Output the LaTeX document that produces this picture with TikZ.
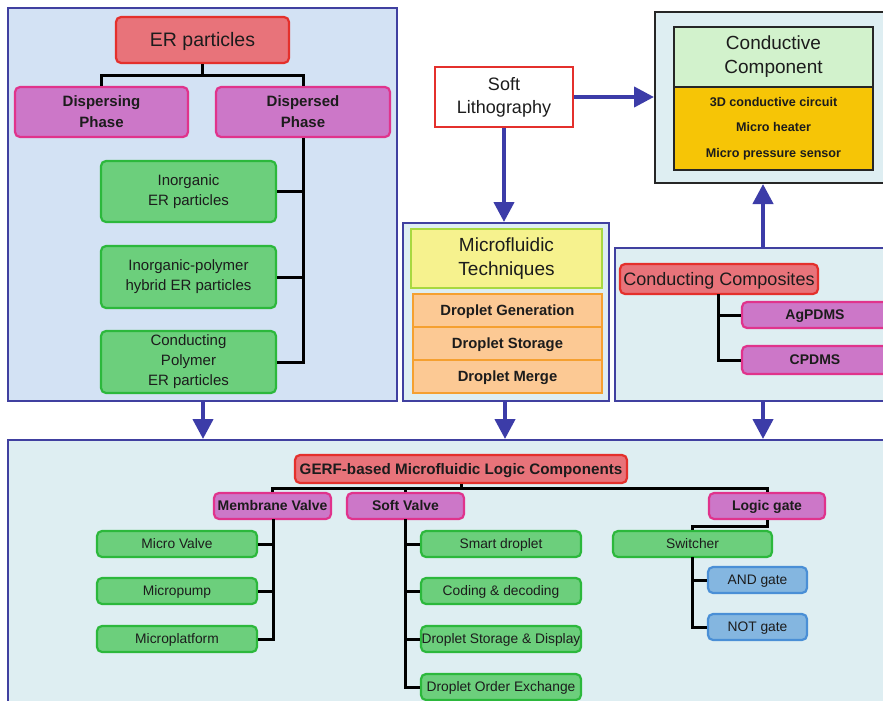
\documentclass[tikz,border=0pt]{standalone}
\usepackage{fontspec}
\setmainfont{Liberation Sans}
\usetikzlibrary{arrows.meta}

\definecolor{panelB}{HTML}{4040A0}
\definecolor{panelBlue}{HTML}{D3E2F4}
\definecolor{panelCyan}{HTML}{DEEEF2}
\definecolor{arrowC}{HTML}{3C3CA8}
\definecolor{redF}{HTML}{E8737A}
\definecolor{redB}{HTML}{E4302C}
\definecolor{magF}{HTML}{CC77C8}
\definecolor{magB}{HTML}{E0338C}
\definecolor{grnF}{HTML}{6CCF7C}
\definecolor{grnB}{HTML}{2CB83C}
\definecolor{bluF}{HTML}{84B6E0}
\definecolor{bluB}{HTML}{4A8FD6}
\definecolor{yelF}{HTML}{F6F28E}
\definecolor{yelB}{HTML}{A8D840}
\definecolor{orgF}{HTML}{FCC994}
\definecolor{orgB}{HTML}{F5A030}
\definecolor{ccF}{HTML}{D2F2CC}
\definecolor{goldF}{HTML}{F6C506}
\definecolor{txt}{HTML}{1C1C1C}

\tikzset{
  panel/.style={draw=panelB, line width=2pt, inner sep=0pt},
  box/.style={rounded corners=5pt, line width=2.2pt, inner sep=1pt, align=center, text=txt},
  oneline/.style={text height=#1*0.85pt, text depth=#1*0.15pt},
  redbox/.style={box, draw=redB, fill=redF},
  magbox/.style={box, draw=magB, fill=magF},
  grnbox/.style={box, draw=grnB, fill=grnF},
  blubox/.style={box, draw=bluB, fill=bluF},
  orgbox/.style={line width=1.8pt, draw=orgB, fill=orgF, inner sep=1pt, align=center, text=txt},
  tree/.style={line width=3pt, draw=black, line join=miter},
  flow/.style={line width=4.2pt, draw=arrowC, -{Triangle[length=20pt,width=20pt]}},
  fbig/.style={font=\fontsize{19.5}{23}\selectfont, oneline=19.5},
  fhead/.style={font=\fontsize{19}{24}\selectfont},
  fphase/.style={font=\fontsize{15}{21}\selectfont\bfseries},
  fmid/.style={font=\fontsize{15}{20}\selectfont},
  fsmallb/.style={font=\fontsize{14}{16}\selectfont\bfseries, oneline=14},
  fsmall/.style={font=\fontsize{13.8}{16}\selectfont, oneline=13.8},
  forg/.style={font=\fontsize{14.8}{16}\selectfont\bfseries, oneline=14.8},
}

\begin{document}
\begin{tikzpicture}[x=1pt,y=-1pt]
\useasboundingbox (0,0) rectangle (883,701);
\clip (0,0) rectangle (883,701);
\fill[white] (0,0) rectangle (883,701);

% ---------- ER particle panel ----------
\node[panel, fill=panelBlue, minimum width=389pt, minimum height=393pt] (erpanel) at (202.5,204.5) {};
\node[redbox, fbig, minimum width=173pt, minimum height=46pt] (er) at (202.5,40) {ER particles};
\node[magbox, fphase, minimum width=173pt, minimum height=50pt] (dsg) at (101.5,112) {Dispersing\\Phase};
\node[magbox, fphase, minimum width=174pt, minimum height=50pt] (dsd) at (303,112) {Dispersed\\Phase};
\node[grnbox, fmid, minimum width=175pt, minimum height=61pt] (inorg) at (188.5,191.5) {Inorganic\\ER particles};
\node[grnbox, fmid, minimum width=175pt, minimum height=62pt] (hyb) at (188.5,277) {Inorganic-polymer\\hybrid ER particles};
\node[grnbox, fmid, minimum width=175pt, minimum height=62pt] (cpol) at (188.5,362)
  {Conducting\\Polymer\\ER particles};

\coordinate (erj) at (202.5,75);
\draw[tree] (er.south) -- (erj);
\draw[tree] (dsg.north) |- (erj) -| (dsd.north);
\draw[tree] (dsd.south) -- (dsd.south |- cpol.east) -- (cpol.east);
\draw[tree] (inorg.east) -- (inorg.east -| dsd.south);
\draw[tree] (hyb.east) -- (hyb.east -| dsd.south);

% ---------- soft lithography ----------
\node[draw=redB, line width=1.8pt, fill=white, font=\fontsize{18}{23}\selectfont, align=center, text=txt,
  minimum width=138pt, minimum height=60pt, inner sep=1pt] (soft) at (504,97) {Soft\\Lithography};

% ---------- conductive component ----------
\node[draw=black!85, line width=2pt, fill=panelCyan, minimum width=240pt, minimum height=171pt, inner sep=0pt]
  (condpanel) at (775,97.5) {};
\node[draw=black!85, line width=2pt, fill=ccF, fhead, align=center, text=txt,
  minimum width=199pt, minimum height=60pt, inner sep=1pt] (condcomp) at (773.5,57) {Conductive\\Component};
\node[draw=black!85, line width=2pt, fill=goldF, align=center, text=txt,
  font=\fontsize{12.6}{25.5}\selectfont\bfseries,
  minimum width=199pt, minimum height=83pt, inner sep=1pt] (condlist) at (773.5,128.5)
  {3D conductive circuit\\Micro heater\\Micro pressure sensor};

% ---------- microfluidic techniques ----------
\node[panel, fill=panelCyan, minimum width=206pt, minimum height=178pt] (micpanel) at (506,312) {};
\node[draw=yelB, line width=1.8pt, fill=yelF, fhead, align=center, text=txt,
  minimum width=191pt, minimum height=59pt, inner sep=1pt] (mictech) at (506.5,258.5) {Microfluidic\\Techniques};
\node[orgbox, forg, minimum width=189pt, minimum height=33pt] (dgen) at (507.5,310.5) {Droplet Generation};
\node[orgbox, forg, minimum width=189pt, minimum height=33pt] (dsto) at (507.5,343.5) {Droplet Storage};
\node[orgbox, forg, minimum width=189pt, minimum height=33pt] (dmer) at (507.5,376.5) {Droplet Merge};

% ---------- conducting composites ----------
\node[panel, fill=panelCyan, minimum width=280pt, minimum height=153pt] (comppanel) at (755,324.5) {};
\node[redbox, font=\fontsize{18}{20}\selectfont, oneline=18, minimum width=198pt, minimum height=30pt] (ccomp) at (719,279)
  {Conducting Composites};
\node[magbox, fsmallb, minimum width=146pt, minimum height=26pt] (ag) at (815,315) {AgPDMS};
\node[magbox, fsmallb, minimum width=146pt, minimum height=28pt] (cp) at (815,360) {CPDMS};
\coordinate (ccj) at (718,294);
\draw[tree] (ccj) -- (ccj |- cp.west) -- (cp.west);
\draw[tree] (ag.west -| ccj) -- (ag.west);

% ---------- logic components ----------
\node[panel, fill=panelCyan, minimum width=882pt, minimum height=270pt] (logpanel) at (449,575) {};
\node[redbox, font=\fontsize{15.2}{16}\selectfont\bfseries, oneline=15.2, minimum width=332pt, minimum height=28pt] (gerf) at (461,469)
  {GERF-based Microfluidic Logic Components};
\node[magbox, fsmallb, minimum width=117pt, minimum height=26pt] (memv) at (272.5,506) {Membrane Valve};
\node[magbox, fsmallb, minimum width=117pt, minimum height=26pt] (softv) at (405.5,506) {Soft Valve};
\node[magbox, fsmallb, minimum width=116pt, minimum height=26pt] (logic) at (767,506) {Logic gate};

\node[grnbox, fsmall, minimum width=160pt, minimum height=26pt] (mv) at (177,544) {Micro Valve};
\node[grnbox, fsmall, minimum width=160pt, minimum height=26pt] (mp) at (177,591) {Micropump};
\node[grnbox, fsmall, minimum width=160pt, minimum height=26pt] (mpl) at (177,639) {Microplatform};

\node[grnbox, fsmall, minimum width=160pt, minimum height=26pt] (sd) at (501,544) {Smart droplet};
\node[grnbox, fsmall, minimum width=160pt, minimum height=26pt] (cd) at (501,591) {Coding \& decoding};
\node[grnbox, fsmall, inner sep=0pt, minimum width=160pt, minimum height=26pt] (dsd2) at (501,639)
  {Droplet Storage \& Display};
\node[grnbox, fsmall, minimum width=160pt, minimum height=26pt] (doe) at (501,687) {Droplet Order Exchange};

\node[grnbox, fsmall, minimum width=159pt, minimum height=26pt] (sw) at (692.5,544) {Switcher};
\node[blubox, fsmall, minimum width=99pt, minimum height=26pt] (andg) at (757.5,580) {AND gate};
\node[blubox, fsmall, minimum width=99pt, minimum height=26pt] (notg) at (757.5,627) {NOT gate};

% logic tree
\coordinate (gj) at (461,488);
\draw[tree] (gerf.south) -- (gj);
\draw[tree] (memv.north) |- (gj);
\draw[tree] (gj) -| (logic.north);
\draw[tree] (softv.north) -- (softv.north |- gj);
\coordinate (mvx) at (273,519);
\draw[tree] (mvx) -- (mvx |- mpl.east) -- (mpl.east);
\draw[tree] (mv.east) -- (mv.east -| mvx);
\draw[tree] (mp.east) -- (mp.east -| mvx);
\coordinate (svx) at (405,519);
\draw[tree] (svx) -- (svx |- doe.west) -- (doe.west);
\draw[tree] (sd.west -| svx) -- (sd.west);
\draw[tree] (cd.west -| svx) -- (cd.west);
\draw[tree] (dsd2.west -| svx) -- (dsd2.west);
\coordinate (lgj) at (767,526);
\draw[tree] (logic.south) -- (lgj) -| (sw.north);
\coordinate (swx) at (692,557);
\draw[tree] (swx) -- (swx |- notg.west) -- (notg.west);
\draw[tree] (andg.west -| swx) -- (andg.west);

% ---------- flow arrows ----------
\draw[flow] (soft.east) -- (soft.east -| condpanel.west);
\draw[flow] (soft.south) -- (soft.south |- micpanel.north);
\coordinate (cup) at (763,248);
\draw[flow] (cup) -- (cup |- condpanel.south);
\coordinate (a1) at (203,401);
\draw[flow] (a1) -- (a1 |- logpanel.north);
\coordinate (a2) at (505,401);
\draw[flow] (a2) -- (a2 |- logpanel.north);
\coordinate (a3) at (763,401);
\draw[flow] (a3) -- (a3 |- logpanel.north);
\end{tikzpicture}
\end{document}
